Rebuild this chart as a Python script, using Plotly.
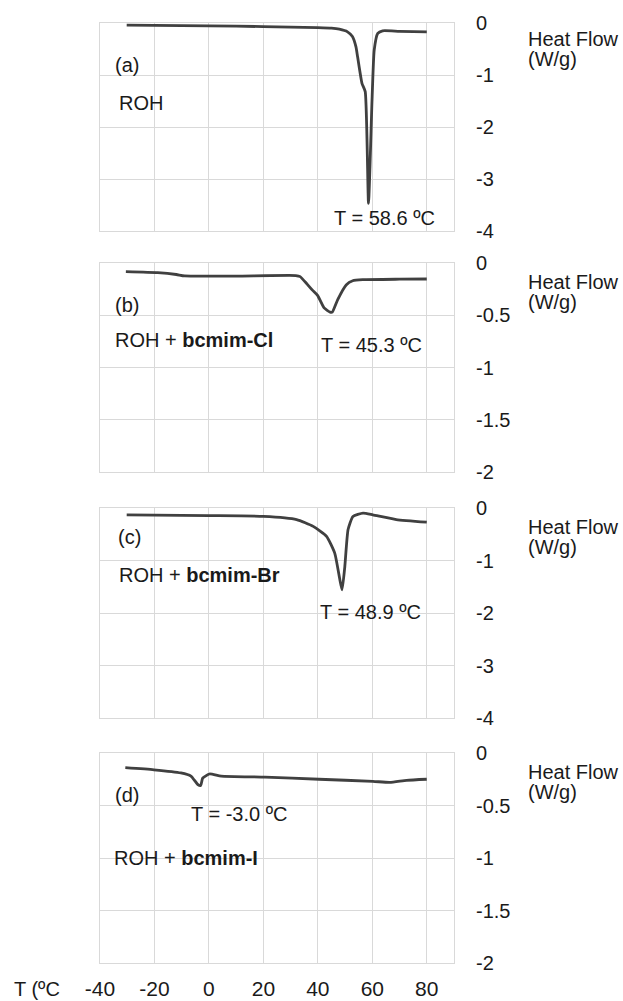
import plotly.graph_objects as go

# ---------------- data ----------------
a_T = [-30.2, -10, 10, 30, 40, 45, 47.9, 50.9, 52.7, 54.0, 54.6, 56.2, 57.4, 58.6, 59.9, 60.7, 62.0, 63.8, 70, 80]
a_HF = [-0.04, -0.05, -0.06, -0.08, -0.09, -0.10, -0.12, -0.17, -0.26, -0.46, -0.65, -1.16, -1.32, -3.47, -1.48, -0.52, -0.20, -0.15, -0.16, -0.17]

b_T = [-30.5, -18.8, -12, -8.9, 10, 31.9, 33.5, 36, 38, 39.9, 42.3, 44.5, 45.3, 47.3, 50.4, 52.8, 56.5, 70, 80]
b_HF = [-0.083, -0.093, -0.11, -0.124, -0.125, -0.12, -0.13, -0.20, -0.26, -0.31, -0.43, -0.47, -0.47, -0.35, -0.21, -0.17, -0.16, -0.155, -0.153]

c_T = [-30.2, 0, 20, 32.2, 38.3, 43.2, 46.2, 48.1, 48.9, 49.9, 51.1, 52.9, 56.6, 60.2, 68.8, 80]
c_HF = [-0.13, -0.145, -0.16, -0.22, -0.35, -0.54, -0.86, -1.37, -1.56, -1.12, -0.41, -0.16, -0.097, -0.13, -0.22, -0.27]

d_T = [-30.7, -20.2, -10.3, -6.6, -4.1, -3.0, -2.3, 0.2, 4.5, 20.6, 40.4, 60.2, 66.4, 72.6, 80]
d_HF = [-0.14, -0.16, -0.19, -0.22, -0.30, -0.31, -0.24, -0.20, -0.22, -0.23, -0.25, -0.27, -0.28, -0.26, -0.25]

x_ticks = [-40, -20, 0, 20, 40, 60, 80]
x_ticktext = ["-40", "-20", "0", "20", "40", "60", "80"]
y_ticks_4 = [0, -1, -2, -3, -4]
y_ticktext_4 = ["0", "-1", "-2", "-3", "-4"]
y_ticks_2 = [0, -0.5, -1, -1.5, -2]
y_ticktext_2 = ["0", "-0.5", "-1", "-1.5", "-2"]

panel_labels = ["(a)", "(b)", "(c)", "(d)"]
sample_labels = ["ROH", "ROH + <b>bcmim-Cl</b>", "ROH + <b>bcmim-Br</b>", "ROH + <b>bcmim-I</b>"]
peak_labels = ["T = 58.6 ºC", "T = 45.3 ºC", "T = 48.9 ºC", "T = -3.0 ºC"]

# ---------------- styling ----------------
W, H = 623, 1001
FONT = "Liberation Sans, Arial, sans-serif"
TXT = "#1a1a1a"
GRID = "#d9d9d9"
LINE = "#404040"
FS = 20

x_dom = [100 / W, 454 / W]
panels_px = [(23, 231), (263, 472), (508, 718), (753, 963)]
y_doms = [[1 - b / H, 1 - t / H] for (t, b) in panels_px]
y_ranges = [[-4, 0], [-2, 0], [-4, 0], [-2, 0]]
y_tv = [y_ticks_4, y_ticks_2, y_ticks_4, y_ticks_2]
y_tt = [y_ticktext_4, y_ticktext_2, y_ticktext_4, y_ticktext_2]

series = [(a_T, a_HF), (b_T, b_HF), (c_T, c_HF), (d_T, d_HF)]

fig = go.Figure()
layout = dict(
    width=W, height=H,
    margin=dict(l=0, r=0, t=0, b=0),
    paper_bgcolor="white", plot_bgcolor="white",
    showlegend=False,
    font=dict(family=FONT, size=FS, color=TXT),
)

annotations = []
for i, (T, HF) in enumerate(series):
    n = "" if i == 0 else str(i + 1)
    fig.add_trace(go.Scatter(
        x=T, y=HF, mode="lines",
        line=dict(color=LINE, width=2.8, shape="spline", smoothing=0.5),
        xaxis="x" + n, yaxis="y" + n, hoverinfo="skip",
    ))
    layout["xaxis" + n] = dict(
        domain=x_dom, anchor="y" + n, range=[-40, 90],
        tickvals=x_ticks, ticktext=x_ticktext,
        showgrid=True, gridcolor=GRID, gridwidth=1,
        showline=True, linecolor=GRID, linewidth=1, mirror=True,
        zeroline=False,
        showticklabels=(i == 3),
        ticks="outside" if i == 3 else "", ticklen=7, tickcolor="rgba(0,0,0,0)",
        tickfont=dict(size=21, family=FONT, color=TXT),
        automargin=False, fixedrange=True,
    )
    layout["yaxis" + n] = dict(
        domain=y_doms[i], anchor="x" + n, side="right", range=y_ranges[i],
        tickvals=y_tv[i], ticktext=y_tt[i],
        showgrid=True, gridcolor=GRID, gridwidth=1,
        showline=True, linecolor=GRID, linewidth=1, mirror=True,
        zeroline=False,
        ticks="outside", ticklen=17, tickcolor="rgba(0,0,0,0)",
        tickfont=dict(size=FS, family=FONT, color=TXT),
        automargin=False, fixedrange=True,
    )
    top_px = panels_px[i][0]
    off = (16, 36) if i == 0 else (19, 39)
    annotations.append(dict(xref="paper", yref="paper", x=526 / W, y=1 - (top_px + off[0]) / H,
                            text="Heat Flow", showarrow=False, xanchor="left", yanchor="middle",
                            font=dict(size=FS, family=FONT, color=TXT)))
    annotations.append(dict(xref="paper", yref="paper", x=526 / W, y=1 - (top_px + off[1]) / H,
                            text="(W/g)", showarrow=False, xanchor="left", yanchor="middle",
                            font=dict(size=FS, family=FONT, color=TXT)))

# in-panel text positions (data coords)
label_pos = [(-35.2, -0.81), (-35.4, -0.40), (-34.1, -0.55), (-35.2, -0.40)]
sample_pos = [(-33.8, -1.54), (-35.4, -0.74), (-33.8, -1.28), (-35.5, -1.0)]
peak_pos = [(45.3, -3.75), (40.5, -0.78), (40.1, -1.98), (-7.3, -0.58)]

for i in range(4):
    n = "" if i == 0 else str(i + 1)
    for txt, (px, py) in [(panel_labels[i], label_pos[i]), (sample_labels[i], sample_pos[i]),
                          (peak_labels[i], peak_pos[i])]:
        annotations.append(dict(xref="x" + n, yref="y" + n, x=px, y=py, text=txt,
                                showarrow=False, xanchor="left", yanchor="middle",
                                font=dict(size=FS, family=FONT, color=TXT)))

annotations.append(dict(xref="paper", yref="paper", x=12 / W, y=1 - 989 / H, text="T (ºC",
                        showarrow=False, xanchor="left", yanchor="middle",
                        font=dict(size=FS, family=FONT, color=TXT)))

layout["annotations"] = annotations
fig.update_layout(**layout)
fig.write_html("out.html")
